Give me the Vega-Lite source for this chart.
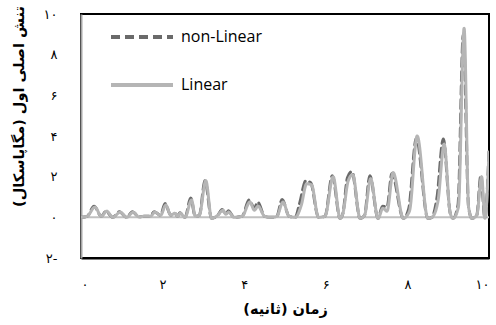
{
  "$schema": "https://vega.github.io/schema/vega-lite/v6.json",
  "autosize": "none",
  "width": 408,
  "height": 244,
  "padding": {"left": 81, "top": 14, "right": 7, "bottom": 67},
  "background": "white",
  "config": {
    "view": {"stroke": "#000000", "strokeWidth": 2},
    "axis": {"grid": false, "ticks": false, "labelFont": "DejaVu Sans", "labelFontSize": 13, "labelColor": "#000", "titleFont": "DejaVu Sans", "titleFontSize": 14.5, "titleFontWeight": "bold", "titleColor": "#000"}
  },
  "datasets": {
    "series": [
      {"series": "non-Linear", "t": 0, "v": 0},
      {"series": "non-Linear", "t": 0.15, "v": 0.05},
      {"series": "non-Linear", "t": 0.32, "v": 0.55},
      {"series": "non-Linear", "t": 0.5, "v": 0.05},
      {"series": "non-Linear", "t": 0.61, "v": 0.3},
      {"series": "non-Linear", "t": 0.78, "v": 0.0},
      {"series": "non-Linear", "t": 0.94, "v": 0.28},
      {"series": "non-Linear", "t": 1.12, "v": 0.0},
      {"series": "non-Linear", "t": 1.26, "v": 0.28},
      {"series": "non-Linear", "t": 1.42, "v": 0.02},
      {"series": "non-Linear", "t": 1.55, "v": 0.05},
      {"series": "non-Linear", "t": 1.7, "v": 0.05},
      {"series": "non-Linear", "t": 1.79, "v": 0.28},
      {"series": "non-Linear", "t": 1.95, "v": 0.1},
      {"series": "non-Linear", "t": 2.06, "v": 0.68},
      {"series": "non-Linear", "t": 2.2, "v": 0.1},
      {"series": "non-Linear", "t": 2.29, "v": 0.22},
      {"series": "non-Linear", "t": 2.37, "v": 0.05},
      {"series": "non-Linear", "t": 2.42, "v": 0.22},
      {"series": "non-Linear", "t": 2.55, "v": 0.0},
      {"series": "non-Linear", "t": 2.69, "v": 0.95},
      {"series": "non-Linear", "t": 2.8, "v": 0.05},
      {"series": "non-Linear", "t": 2.9, "v": 0.1},
      {"series": "non-Linear", "t": 3.04, "v": 1.8},
      {"series": "non-Linear", "t": 3.2, "v": -0.05},
      {"series": "non-Linear", "t": 3.35, "v": 0.1},
      {"series": "non-Linear", "t": 3.46, "v": 0.38},
      {"series": "non-Linear", "t": 3.55, "v": 0.15},
      {"series": "non-Linear", "t": 3.61, "v": 0.32},
      {"series": "non-Linear", "t": 3.75, "v": 0.0},
      {"series": "non-Linear", "t": 3.95, "v": 0.05},
      {"series": "non-Linear", "t": 4.12, "v": 0.85},
      {"series": "non-Linear", "t": 4.25, "v": 0.45},
      {"series": "non-Linear", "t": 4.33, "v": 0.75},
      {"series": "non-Linear", "t": 4.5, "v": 0.05},
      {"series": "non-Linear", "t": 4.65, "v": 0.0},
      {"series": "non-Linear", "t": 4.8, "v": 0.05},
      {"series": "non-Linear", "t": 4.93, "v": 0.88},
      {"series": "non-Linear", "t": 5.1, "v": 0.05},
      {"series": "non-Linear", "t": 5.25, "v": 0.0},
      {"series": "non-Linear", "t": 5.36, "v": 0.7},
      {"series": "non-Linear", "t": 5.51, "v": 1.8},
      {"series": "non-Linear", "t": 5.63, "v": 1.7},
      {"series": "non-Linear", "t": 5.82, "v": 0.0},
      {"series": "non-Linear", "t": 5.98, "v": 0.05},
      {"series": "non-Linear", "t": 6.16, "v": 2.05},
      {"series": "non-Linear", "t": 6.35, "v": -0.05},
      {"series": "non-Linear", "t": 6.42, "v": 0.2},
      {"series": "non-Linear", "t": 6.53, "v": 1.95},
      {"series": "non-Linear", "t": 6.64, "v": 2.25},
      {"series": "non-Linear", "t": 6.84, "v": -0.05},
      {"series": "non-Linear", "t": 6.95, "v": 0.1},
      {"series": "non-Linear", "t": 7.08, "v": 2.05},
      {"series": "non-Linear", "t": 7.28, "v": -0.05},
      {"series": "non-Linear", "t": 7.39, "v": 0.55},
      {"series": "non-Linear", "t": 7.5, "v": 0.5},
      {"series": "non-Linear", "t": 7.62, "v": 2.15},
      {"series": "non-Linear", "t": 7.9, "v": -0.05},
      {"series": "non-Linear", "t": 8.03, "v": 0.4},
      {"series": "non-Linear", "t": 8.22, "v": 3.9},
      {"series": "non-Linear", "t": 8.5, "v": -0.05},
      {"series": "non-Linear", "t": 8.6, "v": 0.0},
      {"series": "non-Linear", "t": 8.72, "v": 0.9},
      {"series": "non-Linear", "t": 8.88, "v": 3.85},
      {"series": "non-Linear", "t": 9.05, "v": 0.2},
      {"series": "non-Linear", "t": 9.12, "v": -0.05},
      {"series": "non-Linear", "t": 9.24, "v": 0.6},
      {"series": "non-Linear", "t": 9.37, "v": 9.0},
      {"series": "non-Linear", "t": 9.5, "v": 0.5},
      {"series": "non-Linear", "t": 9.58, "v": -0.05},
      {"series": "non-Linear", "t": 9.7, "v": 0.1},
      {"series": "non-Linear", "t": 9.8, "v": 2.05},
      {"series": "non-Linear", "t": 9.9, "v": -0.05},
      {"series": "non-Linear", "t": 10.0, "v": 3.3},

      {"series": "Linear", "t": 0, "v": 0},
      {"series": "Linear", "t": 0.15, "v": 0.05},
      {"series": "Linear", "t": 0.34, "v": 0.5},
      {"series": "Linear", "t": 0.5, "v": 0.05},
      {"series": "Linear", "t": 0.63, "v": 0.3},
      {"series": "Linear", "t": 0.78, "v": 0.0},
      {"series": "Linear", "t": 0.96, "v": 0.25},
      {"series": "Linear", "t": 1.12, "v": 0.0},
      {"series": "Linear", "t": 1.28, "v": 0.25},
      {"series": "Linear", "t": 1.42, "v": 0.02},
      {"series": "Linear", "t": 1.55, "v": 0.05},
      {"series": "Linear", "t": 1.7, "v": 0.05},
      {"series": "Linear", "t": 1.81, "v": 0.25},
      {"series": "Linear", "t": 1.95, "v": 0.1},
      {"series": "Linear", "t": 2.08, "v": 0.6},
      {"series": "Linear", "t": 2.2, "v": 0.1},
      {"series": "Linear", "t": 2.3, "v": 0.2},
      {"series": "Linear", "t": 2.37, "v": 0.05},
      {"series": "Linear", "t": 2.43, "v": 0.2},
      {"series": "Linear", "t": 2.55, "v": 0.0},
      {"series": "Linear", "t": 2.71, "v": 0.85},
      {"series": "Linear", "t": 2.8, "v": 0.05},
      {"series": "Linear", "t": 2.9, "v": 0.1},
      {"series": "Linear", "t": 3.06, "v": 1.8},
      {"series": "Linear", "t": 3.2, "v": -0.05},
      {"series": "Linear", "t": 3.35, "v": 0.1},
      {"series": "Linear", "t": 3.48, "v": 0.35},
      {"series": "Linear", "t": 3.55, "v": 0.15},
      {"series": "Linear", "t": 3.62, "v": 0.25},
      {"series": "Linear", "t": 3.75, "v": 0.0},
      {"series": "Linear", "t": 3.95, "v": 0.05},
      {"series": "Linear", "t": 4.14, "v": 0.75},
      {"series": "Linear", "t": 4.25, "v": 0.35},
      {"series": "Linear", "t": 4.34, "v": 0.55},
      {"series": "Linear", "t": 4.5, "v": 0.05},
      {"series": "Linear", "t": 4.65, "v": 0.0},
      {"series": "Linear", "t": 4.8, "v": 0.05},
      {"series": "Linear", "t": 4.95, "v": 0.75},
      {"series": "Linear", "t": 5.1, "v": 0.05},
      {"series": "Linear", "t": 5.25, "v": 0.0},
      {"series": "Linear", "t": 5.4, "v": 0.6},
      {"series": "Linear", "t": 5.53, "v": 1.65},
      {"series": "Linear", "t": 5.65, "v": 1.6},
      {"series": "Linear", "t": 5.82, "v": 0.0},
      {"series": "Linear", "t": 5.98, "v": 0.05},
      {"series": "Linear", "t": 6.18, "v": 2.0},
      {"series": "Linear", "t": 6.35, "v": -0.05},
      {"series": "Linear", "t": 6.42, "v": 0.2},
      {"series": "Linear", "t": 6.55, "v": 1.8},
      {"series": "Linear", "t": 6.66, "v": 2.1},
      {"series": "Linear", "t": 6.84, "v": -0.05},
      {"series": "Linear", "t": 6.95, "v": 0.1},
      {"series": "Linear", "t": 7.1, "v": 1.9},
      {"series": "Linear", "t": 7.28, "v": -0.05},
      {"series": "Linear", "t": 7.4, "v": 0.45},
      {"series": "Linear", "t": 7.5, "v": 0.3},
      {"series": "Linear", "t": 7.65, "v": 2.2},
      {"series": "Linear", "t": 7.9, "v": -0.05},
      {"series": "Linear", "t": 8.05, "v": 0.3},
      {"series": "Linear", "t": 8.24, "v": 4.0},
      {"series": "Linear", "t": 8.5, "v": -0.05},
      {"series": "Linear", "t": 8.6, "v": 0.0},
      {"series": "Linear", "t": 8.75, "v": 0.8},
      {"series": "Linear", "t": 8.9, "v": 3.6},
      {"series": "Linear", "t": 9.05, "v": 0.2},
      {"series": "Linear", "t": 9.12, "v": -0.05},
      {"series": "Linear", "t": 9.25, "v": 0.5},
      {"series": "Linear", "t": 9.39, "v": 9.3},
      {"series": "Linear", "t": 9.5, "v": 0.5},
      {"series": "Linear", "t": 9.58, "v": -0.05},
      {"series": "Linear", "t": 9.7, "v": 0.1},
      {"series": "Linear", "t": 9.82, "v": 2.0},
      {"series": "Linear", "t": 9.9, "v": -0.05},
      {"series": "Linear", "t": 10.0, "v": 3.2}
    ]
  },
  "layer": [
    {
      "data": {"values": [{"zero": 0}]},
      "mark": {"type": "rule", "color": "#c0c0c0", "strokeWidth": 2},
      "encoding": {"y": {"field": "zero", "type": "quantitative", "scale": {"domain": [-2, 10], "nice": false}}}
    },
    {
      "data": {"name": "series"},
      "mark": {"type": "line", "interpolate": "monotone", "strokeWidth": 3, "strokeCap": "round", "clip": true},
      "encoding": {
        "x": {
          "field": "t", "type": "quantitative",
          "scale": {"domain": [0, 10], "nice": false},
          "axis": {"values": [0, 2, 4, 6, 8, 10], "title": "زمان (ثانیه)", "labelPadding": 20, "titlePadding": 11, "domainColor": "#000", "domainWidth": 2,
            "labelExpr": "datum.value == 0 ? '۰' : datum.value == 2 ? '۲' : datum.value == 4 ? '۴' : datum.value == 6 ? '۶' : datum.value == 8 ? '۸' : '۱۰'"}
        },
        "y": {
          "field": "v", "type": "quantitative",
          "scale": {"domain": [-2, 10], "nice": false},
          "axis": {"values": [-2, 0, 2, 4, 6, 8, 10], "title": "تنش اصلی اول (مگاپاسکال)", "labelPadding": 24, "titleX": -55, "titleY": 92, "domainColor": "#a6a6a6", "domainWidth": 2,
            "labelExpr": "datum.value == -2 ? '۲-' : datum.value == 0 ? '۰' : datum.value == 2 ? '۲' : datum.value == 4 ? '۴' : datum.value == 6 ? '۶' : datum.value == 8 ? '۸' : '۱۰'"}
        },
        "color": {
          "field": "series", "type": "nominal",
          "scale": {"domain": ["non-Linear", "Linear"], "range": ["#6a6a6a", "#b5b5b5"]},
          "legend": {"title": null, "orient": "none", "legendX": 28, "legendY": -10, "symbolType": "stroke", "symbolSize": 3844, "symbolStrokeWidth": 4, "labelFont": "Open Sans", "labelFontSize": 16, "labelColor": "#000", "rowPadding": 7, "labelOffset": 6}
        },
        "strokeDash": {
          "field": "series", "type": "nominal",
          "scale": {"domain": ["non-Linear", "Linear"], "range": [[9, 5], [1, 0]]},
          "legend": {"title": null, "orient": "none", "legendX": 28, "legendY": -10, "symbolType": "stroke", "symbolSize": 3844, "symbolStrokeWidth": 4, "labelFont": "Open Sans", "labelFontSize": 16, "labelColor": "#000", "rowPadding": 7, "labelOffset": 6}
        }
      }
    }
  ]
}
